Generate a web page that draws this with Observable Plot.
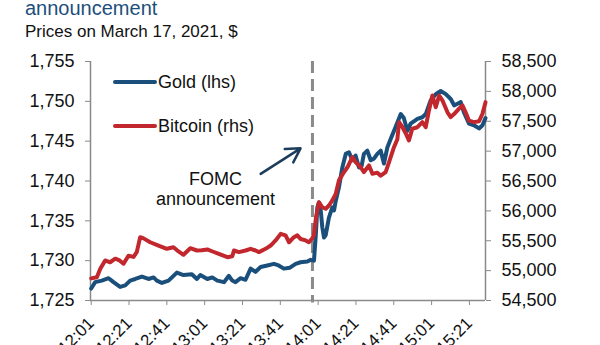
<!DOCTYPE html>
<html><head><meta charset="utf-8">
<script src="https://cdn.jsdelivr.net/npm/d3@7"></script>
<script src="https://cdn.jsdelivr.net/npm/@observablehq/plot@0.6"></script>
<style>
body{margin:0;background:#fff;font-family:"Liberation Sans",Arial,sans-serif;}
#wrap{position:relative;width:600px;height:345px;overflow:hidden;background:#fff;}
#title{position:absolute;left:25px;top:-2px;font-size:20px;line-height:20px;color:#1d4f7c;white-space:nowrap;}
#subtitle{position:absolute;left:25px;top:23px;font-size:17px;line-height:17px;color:#111;white-space:nowrap;}
#chart{position:absolute;left:0;top:40px;}
.lg{position:absolute;font-size:18px;line-height:18px;color:#111;white-space:nowrap;}
.sw{position:absolute;height:4px;width:44px;border-radius:2px;}
</style></head>
<body>
<div id="wrap">
  <div id="title">announcement</div>
  <div id="subtitle">Prices on March 17, 2021, $</div>
  <div id="chart"></div>
  <div class="sw" id="sw0" style="left:113px;top:80px;"></div>
  <div class="lg" id="lg0" style="left:158px;top:73px;"></div>
  <div class="sw" id="sw1" style="left:113px;top:124px;"></div>
  <div class="lg" id="lg1" style="left:158px;top:117px;"></div>
</div>
<script>
// minutes after 12:00
const goldTimes = [1,3.1,6.6,10.2,12.8,16.3,19,21.6,24.3,27.8,31.3,34,35.7,38.4,41.9,46.3,49.8,54.2,56.9,58.7,62.4,65,67.7,71.2,73.8,75.6,77.3,80,82.6,85.3,87.9,90.6,94.1,97.6,100.1,102.9,105.9,109.1,111.7,115.3,117,118.8,119.7,120.6,121.4,122.3,123.2,124.1,125,126.7,128.5,129.4,130.3,132,133.8,135.6,137.3,139.1,140.8,142.6,144,145.2,147,148.8,150.5,152.3,154.1,155.8,157.6,159.4,162,164.7,166.3,168.2,169.9,173.5,176.1,177.9,180.5,183.2,185.8,188.5,191.1,192.9,194.7,196.4,198.1,200.8,203.4,206.1,207.9,209.5];
const goldValues = [1726.5,1727.3,1727.5,1727.8,1727.3,1726.7,1726.9,1727.5,1727.7,1728.0,1727.7,1727.9,1727.5,1727.2,1727.5,1728.5,1728.2,1728.3,1727.7,1728.2,1727.7,1727.9,1727.5,1727.3,1728.1,1727.5,1727.3,1727.8,1727.6,1729.0,1728.6,1729.2,1729.4,1729.6,1729.4,1729.0,1729.1,1729.6,1729.8,1729.9,1730.1,1730.0,1733.0,1736.7,1737.3,1736.5,1734.2,1732.9,1733.2,1735.4,1736.7,1736.3,1737.5,1739.2,1741.7,1743.4,1743.6,1742.6,1743.2,1741.7,1741.9,1743.4,1743.8,1742.6,1742.8,1743.4,1743.8,1742.2,1744.2,1745.3,1746.8,1748.4,1747.9,1746.3,1747.2,1747.8,1748.0,1748.4,1750.1,1750.9,1751.3,1750.9,1750.3,1749.5,1749.7,1749.9,1748.6,1747.2,1747.0,1746.6,1747.0,1747.9];
const btcTimes = [1,4,5.8,8.4,11,13.7,16,18.1,20.7,23.4,25.1,26.9,28.7,32.2,36.6,41,44.5,46.4,49.8,53.4,56.9,59.4,62.4,65.2,68.5,73,75.6,76.5,79.1,82.6,85.3,87.9,89.7,93.2,95.9,98.5,101.2,103.8,105.6,108.2,110,111.7,114.4,116.1,117.9,118.8,119.9,121.4,123.2,125,126.7,128.5,130.3,132,134.7,136.5,139.1,140.8,143.5,145.2,147.9,149.7,152.3,154.1,156.7,158.5,161.1,162.9,163.8,165.6,167.3,169,170.8,173.5,176.1,177.9,179.6,181.4,183.2,185,186.7,189.4,191.1,192.9,195.5,197.3,199,200.8,203.4,206.1,207.9,209.5];
const btcValues = [54870,54890,55030,55170,55140,55200,55170,55115,55250,55230,55310,55560,55540,55475,55420,55365,55390,55340,55265,55375,55337,55340,55354,55320,55282,55225,55240,55337,55310,55337,55365,55337,55310,55365,55420,55505,55615,55590,55475,55560,55590,55530,55505,55475,55540,55600,55900,56145,56060,56035,56090,56175,56285,56510,56650,56730,56900,56815,56730,56650,56760,56620,56640,56590,56650,56815,57065,57200,57485,57400,57300,57180,57375,57400,57485,57400,57680,57930,57735,57930,57850,57650,57570,57620,57710,57765,57650,57510,57485,57500,57625,57820];

const tickTimes = [1,21,41,61,81,101,121,141,161,181,201];
const tickLabels = ["12:01","12:21","12:41","13:01","13:21","13:41","14:01","14:21","14:41","15:01","15:21"];
const goldTicks = [1725,1730,1735,1740,1745,1750,1755];
const btcTicks = [54500,55000,55500,56000,56500,57000,57500,58000,58500];
const seriesNames = ["Gold (lhs)","Bitcoin (rhs)"];
const fomcTime = [118];
const fomcLabel = [{t:66.7, v:1739.05, text:"FOMC\nannouncement"}];
const fomcArrow = [{t1:90.6, v1:1740.9, t2:111.7, v2:1744.1}];

const goldColor = "#1b4f7b", btcColor = "#c1272d", axisColor = "#8a8a8a";
const toLeft = b => 1725 + (b - 54500) * 30 / 4000;
const fromLeft = g => 54500 + (g - 1725) * 4000 / 30;

const gold = goldTimes.map((t,i)=>({t, v: goldValues[i]}));
const btc = btcTimes.map((t,i)=>({t, v: toLeft(btcValues[i])}));

document.getElementById("sw0").style.background = goldColor;
document.getElementById("sw1").style.background = btcColor;
document.getElementById("lg0").textContent = seriesNames[0];
document.getElementById("lg1").textContent = seriesNames[1];

const xDom = [0.63, 209.5];
const chart = Plot.plot({
  width: 600, height: 305,
  marginLeft: 90, marginRight: 115, marginTop: 21, marginBottom: 45,
  style: {fontFamily: '"Liberation Sans", Arial, sans-serif', color: "#111", background: "transparent", overflow: "visible"},
  x: {domain: xDom, axis: null},
  y: {domain: [1725, 1755], axis: null},
  marks: [
    Plot.ruleX([xDom[0], xDom[1]], {stroke: axisColor, strokeWidth: 1.5}),
    Plot.ruleY([1725], {stroke: axisColor, strokeWidth: 1.5}),
    Plot.axisY({ticks: goldTicks, tickFormat: d3.format(","), anchor: "left", tickSize: 5, tickPadding: 11, fontSize: 18, stroke: axisColor, fill: "#111"}),
    Plot.axisY({ticks: btcTicks.map(toLeft), tickFormat: d => d3.format(",")(Math.round(fromLeft(d))), anchor: "right", tickSize: 5, tickPadding: 11, fontSize: 18, stroke: axisColor, fill: "#111"}),
    Plot.axisX({ticks: tickTimes, tickFormat: d => tickLabels[tickTimes.indexOf(d)], tickRotate: -45, tickSize: 5, tickPadding: 15, fontSize: 17, stroke: axisColor, fill: "#111"}),
    Plot.ruleX(fomcTime, {stroke: axisColor, strokeWidth: 3, strokeDasharray: "12,6", y1: 1755, y2: 1724.7}),
    Plot.line(gold, {x: "t", y: "v", stroke: goldColor, strokeWidth: 4, strokeLinejoin: "round", curve: "linear"}),
    Plot.line(btc, {x: "t", y: "v", stroke: btcColor, strokeWidth: 4, strokeLinejoin: "round", curve: "linear"}),
    Plot.text(fomcLabel, {x: "t", y: "v", text: "text", fontSize: 18, lineHeight: 1.1, fill: "#111", textAnchor: "middle"}),
    Plot.arrow(fomcArrow, {x1: "t1", y1: "v1", x2: "t2", y2: "v2", stroke: "#1c3d5e", strokeWidth: 2.5, headLength: 10})
  ]
});
document.getElementById("chart").appendChild(chart);
</script>
</body></html>
